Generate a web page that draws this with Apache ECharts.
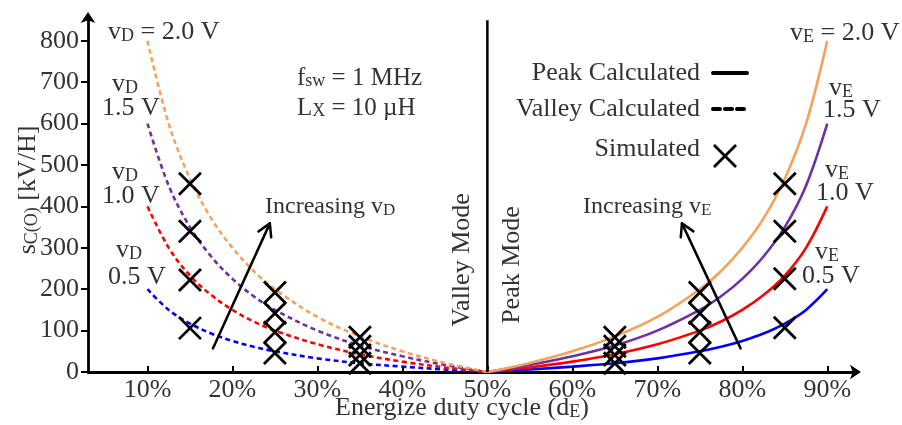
<!DOCTYPE html>
<html><head><meta charset="utf-8">
<script src="https://cdn.jsdelivr.net/npm/echarts@6/dist/echarts.min.js"></script>
<style>html,body{margin:0;padding:0;background:#fff}#c{width:902px;height:425px}</style>
</head><body><div id="c"></div>
<script>
// ---- data ----
const dutyValley = [0.10, 0.125, 0.15, 0.175, 0.20, 0.225, 0.25, 0.30, 0.35, 0.40, 0.45, 0.50];
const valleyVD20 = [800, 600, 467, 371, 300, 244, 200, 133, 86, 50, 22, 0];
const valleyVD15 = [600, 450, 350, 279, 225, 183, 150, 100, 64, 38, 17, 0];
const valleyVD10 = [400, 300, 233, 186, 150, 122, 100, 67, 43, 25, 11, 0];
const valleyVD05 = [200, 150, 117, 93, 75, 61, 50, 33, 21, 13, 6, 0];

const dutyPeak = [0.50, 0.55, 0.60, 0.65, 0.70, 0.75, 0.775, 0.80, 0.825, 0.85, 0.875, 0.90];
const peakVE20 = [0, 22, 50, 86, 133, 200, 244, 300, 371, 467, 600, 800];
const peakVE15 = [0, 17, 38, 64, 100, 150, 183, 225, 279, 350, 450, 600];
const peakVE10 = [0, 11, 25, 43, 67, 100, 122, 150, 186, 233, 300, 400];
const peakVE05 = [0, 6, 13, 21, 33, 50, 61, 75, 93, 117, 150, 200];

const simDuty = [0.15, 0.25, 0.35, 0.65, 0.75, 0.85];
const simV20 = [455, 192, 84, 84, 192, 455];
const simV15 = [340, 142, 62, 62, 142, 340];
const simV10 = [222, 96, 41, 41, 96, 225];
const simV05 = [106, 46, 21, 21, 46, 107];

const modeBoundary = [[0.5, 0], [0.5, 850]];
const xTicks = [0.1, 0.2, 0.3, 0.4, 0.5, 0.6, 0.7, 0.8, 0.9];
const yTicks = [0, 100, 200, 300, 400, 500, 600, 700, 800];
const arrowVD = [[0.177, 57], [0.244, 359]];
const arrowVE = [[0.798, 57], [0.729, 359]];

// ---- styling ----
const FONT = '"Liberation Serif", "Times New Roman", serif';
const TXT = '#333';
const C20 = '#F7A15A', C15 = '#7030A0', C10 = '#FF0000', C05 = '#0000FF';

function curve(duty, vals, color, dashed) {
  return {
    type: 'line', silent: true, showSymbol: false, smooth: 0.35, z: 2,
    data: duty.map((d, i) => [d, vals[i]]),
    lineStyle: { color: color, width: 2.6, type: dashed ? [5, 3.5] : 'solid' }
  };
}
function sim(vals) {
  return {
    type: 'scatter', silent: true, z: 5,
    symbol: 'path://M0,0L10,10M10,0L0,10', symbolSize: 22,
    data: simDuty.map((d, i) => [d, vals[i]]),
    itemStyle: { color: 'none', borderColor: '#000', borderWidth: 2.8, opacity: 1 }
  };
}
const rich = {
  n: { fontFamily: FONT, fontSize: 26, color: TXT, lineHeight: 26 },
  s: { fontFamily: FONT, fontSize: 18, color: TXT, lineHeight: 10, verticalAlign: 'bottom' },
  m: { fontFamily: FONT, fontSize: 24, color: TXT, lineHeight: 24 },
  ms: { fontFamily: FONT, fontSize: 17, color: TXT, lineHeight: 9, verticalAlign: 'bottom' },
  p: { fontFamily: FONT, fontSize: 25, color: TXT, lineHeight: 25 },
  ps: { fontFamily: FONT, fontSize: 18, color: TXT, lineHeight: 9, verticalAlign: 'bottom' }
};
function txt(x, y, text, align, extra) {
  return Object.assign({
    type: 'text', x: x, y: y, silent: true, z: 10,
    style: { text: text, rich: rich, align: align || 'left', verticalAlign: 'middle', fontFamily: FONT, fontSize: 26, fill: TXT }
  }, extra || {});
}

const chart = echarts.init(document.getElementById('c'), null, { renderer: 'canvas' });
const option = {
  animation: false,
  backgroundColor: '#fff',
  textStyle: { fontFamily: FONT },
  grid: { left: 88, right: 45, top: 16, bottom: 53 },
  xAxis: {
    type: 'value', min: 0.03, max: 0.935,
    splitLine: { show: false },
    axisLine: { lineStyle: { color: '#000', width: 2.8 }, symbol: ['none', 'arrow'], symbolSize: [11, 11], symbolOffset: [0, 4] },
    axisTick: { inside: true, length: 6, lineStyle: { color: '#000', width: 2 }, customValues: xTicks },
    axisLabel: { customValues: xTicks, fontSize: 26, color: TXT, margin: 5, fontFamily: FONT,
      formatter: v => Math.round(v * 100) + '%' }
  },
  yAxis: {
    type: 'value', min: 0, max: 860,
    splitLine: { show: false },
    axisLine: { lineStyle: { color: '#000', width: 2.8 }, symbol: ['none', 'arrow'], symbolSize: [11, 11], symbolOffset: [0, 4] },
    axisTick: { inside: false, length: 7, lineStyle: { color: '#000', width: 2 }, customValues: yTicks },
    axisLabel: { customValues: yTicks, fontSize: 26, color: TXT, margin: 9, fontFamily: FONT }
  },
  series: [
    curve(dutyValley, valleyVD05, C05, true),
    curve(dutyValley, valleyVD10, C10, true),
    curve(dutyValley, valleyVD15, C15, true),
    curve(dutyValley, valleyVD20, C20, true),
    curve(dutyPeak, peakVE05, C05, false),
    curve(dutyPeak, peakVE10, C10, false),
    curve(dutyPeak, peakVE15, C15, false),
    curve(dutyPeak, peakVE20, C20, false),
    { type: 'line', silent: true, showSymbol: false, z: 3, data: modeBoundary,
      lineStyle: { color: '#000', width: 2.5 } },
    sim(simV20), sim(simV15), sim(simV10), sim(simV05)
  ]
};
chart.setOption(option);

// ---- annotations ----
function arrow(pts) {
  const a = chart.convertToPixel({ gridIndex: 0 }, pts[0]);
  const b = chart.convertToPixel({ gridIndex: 0 }, pts[1]);
  const ang = Math.atan2(b[1] - a[1], b[0] - a[0]);
  const L = 14, sp = Math.PI / 6;
  const p1 = [b[0] - L * Math.cos(ang - sp), b[1] - L * Math.sin(ang - sp)];
  const p2 = [b[0] - L * Math.cos(ang + sp), b[1] - L * Math.sin(ang + sp)];
  const st = { stroke: '#000', lineWidth: 2.5, fill: null, lineCap: 'round', lineJoin: 'round' };
  return [
    { type: 'line', silent: true, z: 8, shape: { x1: a[0], y1: a[1], x2: b[0], y2: b[1] }, style: st },
    { type: 'polyline', silent: true, z: 8, shape: { points: [p1, b, p2] }, style: st }
  ];
}
const lx0 = 713, lx1 = 747;
const graphics = [
  // axis names
  txt(28, 190, '{n|s}{s|C(O)}{n| [kV/H]}', 'center', { rotation: Math.PI / 2 }),
  txt(335, 408, '{n|Energize duty cycle (d}{s|E}{n|)}', 'left'),
  // parameters
  txt(297, 78, '{p|f}{ps|sw}{p| = 1 MHz}', 'left'),
  txt(297, 108, '{p|L}{ps|X}{p| = 10 \u00b5H}', 'left'),
  // legend
  txt(700, 73, '{n|Peak Calculated}', 'right'),
  txt(700, 109, '{n|Valley Calculated}', 'right'),
  txt(700, 149, '{n|Simulated}', 'right'),
  { type: 'line', silent: true, shape: { x1: lx0, y1: 73, x2: lx1, y2: 73 }, style: { stroke: '#000', lineWidth: 4, lineCap: 'round' } },
  { type: 'line', silent: true, shape: { x1: lx0, y1: 109, x2: lx1, y2: 109 }, style: { stroke: '#000', lineWidth: 4, lineDash: [7, 5], lineCap: 'round' } },
  { type: 'line', silent: true, shape: { x1: 714, y1: 145, x2: 736, y2: 167 }, style: { stroke: '#000', lineWidth: 2.8 } },
  { type: 'line', silent: true, shape: { x1: 736, y1: 145, x2: 714, y2: 167 }, style: { stroke: '#000', lineWidth: 2.8 } },
  // mode labels
  txt(462, 260, '{n|Valley Mode}', 'center', { rotation: Math.PI / 2 }),
  txt(512, 265, '{n|Peak Mode}', 'center', { rotation: Math.PI / 2 }),
  // increasing labels
  txt(265, 207, '{m|Increasing v}{ms|D}', 'left'),
  txt(583, 207, '{m|Increasing v}{ms|E}', 'left'),
  // vD labels
  txt(108, 32, '{n|v}{s|D}{n| = 2.0 V}', 'left'),
  txt(112, 84, '{n|v}{s|D}', 'left'),
  txt(102, 108, '{n|1.5 V}', 'left'),
  txt(112, 172, '{n|v}{s|D}', 'left'),
  txt(102, 196, '{n|1.0 V}', 'left'),
  txt(116, 250, '{n|v}{s|D}', 'left'),
  txt(108, 277, '{n|0.5 V}', 'left'),
  // vE labels
  txt(790, 33, '{n|v}{s|E}{n| = 2.0 V}', 'left'),
  txt(829, 88, '{n|v}{s|E}', 'left'),
  txt(823, 110, '{n|1.5 V}', 'left'),
  txt(825, 170, '{n|v}{s|E}', 'left'),
  txt(816, 193, '{n|1.0 V}', 'left'),
  txt(815, 252, '{n|v}{s|E}', 'left'),
  txt(802, 276, '{n|0.5 V}', 'left')
].concat(arrow(arrowVD), arrow(arrowVE));
chart.setOption({ graphic: { elements: graphics } });
</script></body></html>
